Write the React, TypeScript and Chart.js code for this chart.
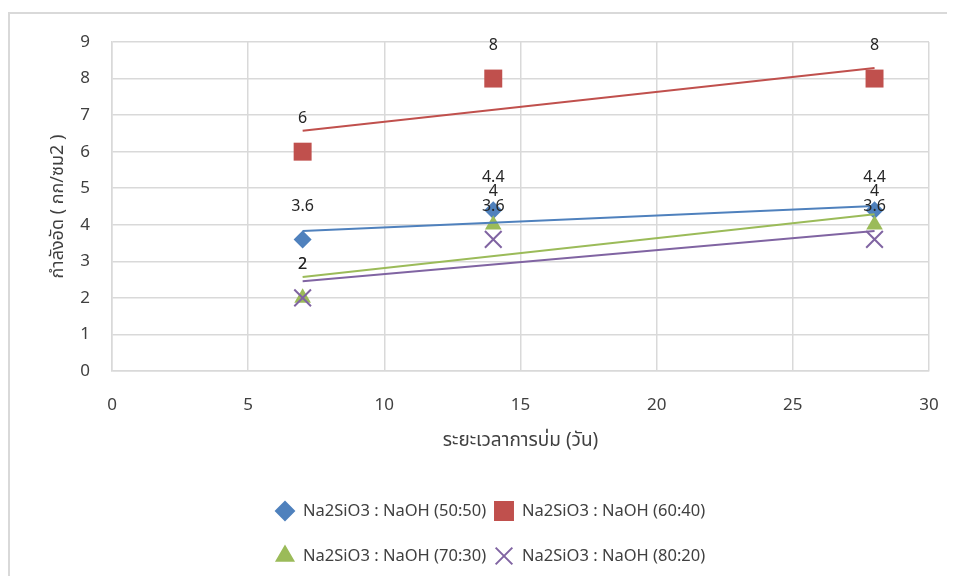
import { useEffect, useRef } from "react";
import { Chart, registerables } from "chart.js";
import { drawPoint } from "chart.js/helpers";

Chart.register(...registerables);

// Curing age (days) and compressive strength (ksc) per Na2SiO3 : NaOH ratio
const curingDays = [7, 14, 28];
const seriesNames = [
  "Na2SiO3 : NaOH (50:50)",
  "Na2SiO3 : NaOH (60:40)",
  "Na2SiO3 : NaOH (70:30)",
  "Na2SiO3 : NaOH (80:20)",
];
const strength5050 = [3.6, 4.4, 4.4];
const strength6040 = [6, 8, 8];
const strength7030 = [2, 4, 4];
const strength8020 = [2, 3.6, 3.6];
const seriesValues = [strength5050, strength6040, strength7030, strength8020];

const xAxisMin = 0;
const xAxisMax = 30;
const xAxisStep = 5;
const yAxisMin = 0;
const yAxisMax = 9;
const yAxisStep = 1;

const xTitle = "ระยะเวลาการบ่ม (วัน)";
const yTitle = "กำลังอัด ( กก/ซม2 )";

const colors = ["#4f81bd", "#c0504d", "#9bbb59", "#8064a2"];
const pointStyles = ["rectRot", "rect", "triangle", "crossRot"];
const pointRadii = [9, 12.7, 9.6, 11.8];

const FONT = '"Noto Sans", "Noto Sans Thai", "Leelawadee UI", Tahoma, sans-serif';

// least-squares linear trendline, evaluated at the first and last x
function linearTrend(xs: number[], ys: number[]) {
  const n = xs.length;
  const mx = xs.reduce((a, b) => a + b, 0) / n;
  const my = ys.reduce((a, b) => a + b, 0) / n;
  let sxy = 0;
  let sxx = 0;
  for (let i = 0; i < n; i++) {
    sxy += (xs[i] - mx) * (ys[i] - my);
    sxx += (xs[i] - mx) * (xs[i] - mx);
  }
  const slope = sxy / sxx;
  const x0 = Math.min(...xs);
  const x1 = Math.max(...xs);
  return [
    { x: x0, y: my + slope * (x0 - mx) },
    { x: x1, y: my + slope * (x1 - mx) },
  ];
}

const valueLabels = {
  id: "valueLabels",
  afterDatasetsDraw(chart: any) {
    const ctx = chart.ctx;
    ctx.save();
    ctx.font = `16px ${FONT}`;
    ctx.fillStyle = "#262626";
    ctx.textAlign = "center";
    ctx.textBaseline = "middle";
    chart.data.datasets.forEach((ds: any, i: number) => {
      if (!ds.isSeries) return;
      const meta = chart.getDatasetMeta(i);
      meta.data.forEach((pt: any, j: number) => {
        ctx.fillText(String(ds.data[j].y), pt.x, pt.y - 33);
      });
    });
    ctx.restore();
  },
};

const twoRowLegend = {
  id: "twoRowLegend",
  afterDraw(chart: any) {
    const ctx = chart.ctx;
    const cols = [275, 494];
    const rows = [497, 542];
    ctx.save();
    ctx.font = `16.5px ${FONT}`;
    ctx.textAlign = "left";
    ctx.textBaseline = "middle";
    seriesNames.forEach((name, i) => {
      const x = cols[i % 2];
      const y = rows[Math.floor(i / 2)];
      ctx.fillStyle = colors[i];
      ctx.strokeStyle = colors[i];
      ctx.lineWidth = 2;
      drawPoint(ctx, { pointStyle: pointStyles[i] as any, radius: pointRadii[i], borderWidth: 2, rotation: 0 }, x, y);
      ctx.fillStyle = "#404040";
      ctx.fillText(name, x + 18, y);
    });
    ctx.restore();
  },
};

function clearScalePadding(scale: any) {
  scale.paddingLeft = 0;
  scale.paddingRight = 0;
  scale.paddingTop = 0;
  scale.paddingBottom = 0;
}

export default function App() {
  const canvasRef = useRef<HTMLCanvasElement | null>(null);

  useEffect(() => {
    document.documentElement.style.overflow = "hidden";
    document.body.style.overflow = "hidden";
    if (!canvasRef.current) return;

    const trendSets = seriesValues.map((vals, i) => ({
      label: seriesNames[i] + " trend",
      data: linearTrend(curingDays, vals),
      showLine: true,
      borderColor: colors[i],
      borderWidth: 2,
      pointRadius: 0,
      fill: false,
      order: 0,
      isSeries: false,
    }));

    const pointSets = seriesValues.map((vals, i) => ({
      label: seriesNames[i],
      data: curingDays.map((d, j) => ({ x: d, y: vals[j] })),
      showLine: false,
      pointStyle: pointStyles[i],
      pointRadius: pointRadii[i],
      pointBackgroundColor: colors[i],
      pointBorderColor: colors[i],
      pointBorderWidth: i === 3 ? 2 : 0,
      backgroundColor: colors[i],
      borderColor: colors[i],
      order: seriesValues.length - i,
      isSeries: true,
    }));

    const chart = new Chart(canvasRef.current, {
      type: "scatter",
      data: { datasets: [...trendSets, ...pointSets] as any },
      plugins: [valueLabels, twoRowLegend],
      options: {
        responsive: false,
        animation: false,
        layout: { padding: { top: 28, right: 18, left: 0, bottom: 0 } },
        plugins: {
          legend: { display: false },
          tooltip: { enabled: false },
        },
        scales: {
          x: {
            type: "linear",
            min: xAxisMin,
            max: xAxisMax,
            afterFit(scale: any) {
              scale.height = 205;
              clearScalePadding(scale);
            },
            ticks: {
              stepSize: xAxisStep,
              padding: 24,
              color: "#404040",
              font: { family: FONT, size: 17 },
            },
            grid: { color: "#d9d9d9", lineWidth: 1.5, drawTicks: false },
            border: { display: true, color: "#d9d9d9", width: 1.5 },
            title: {
              display: true,
              text: xTitle,
              color: "#404040",
              font: { family: FONT, size: 19 },
              padding: { top: 0, bottom: 124 },
            },
          },
          y: {
            type: "linear",
            min: yAxisMin,
            max: yAxisMax,
            afterFit(scale: any) {
              scale.width = 102;
              clearScalePadding(scale);
            },
            ticks: {
              stepSize: yAxisStep,
              padding: 22,
              color: "#404040",
              font: { family: FONT, size: 17 },
            },
            grid: { color: "#d9d9d9", lineWidth: 1.5, drawTicks: false },
            border: { display: true, color: "#d9d9d9", width: 1.5 },
            title: {
              display: true,
              text: yTitle,
              color: "#404040",
              font: { family: FONT, size: 18 },
              padding: { top: 37, bottom: 0 },
            },
          },
        },
      },
    });

    return () => chart.destroy();
  }, []);

  return (
    <div style={{ paddingTop: 4 }}>
      <div
        style={{
          width: 947,
          height: 564,
          boxSizing: "border-box",
          borderTop: "2px solid #d9d9d9",
          borderLeft: "2px solid #d9d9d9",
        }}
      >
        <canvas ref={canvasRef} width={937} height={562} style={{ display: "block", width: 937, height: 562 }} />
      </div>
    </div>
  );
}
